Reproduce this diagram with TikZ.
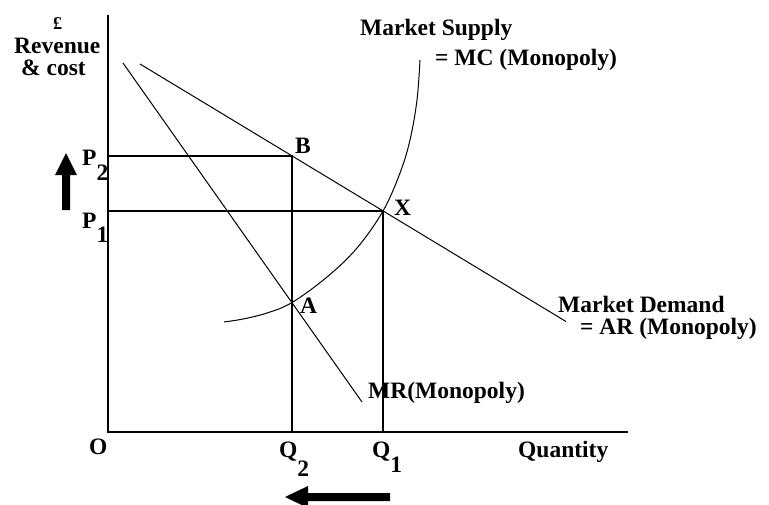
\documentclass[tikz,border=0pt]{standalone}
\usepackage{fontspec}
\setmainfont{Liberation Serif}
\begin{document}
\begin{tikzpicture}[x=1pt,y=-1pt,
  lbl/.style={anchor=base west,inner sep=0pt,font=\fontsize{23.5}{23.5}\selectfont\bfseries},
  axis/.style={line width=1.5pt},
  curve/.style={line width=1pt},
  guide/.style={line width=1.3pt}]
\useasboundingbox[fill=white] (0,0) rectangle (769,504);
% key points
\coordinate (O) at (108,432);
\coordinate (ytop) at (108,15);
\coordinate (xend) at (628,432);
\coordinate (P2) at (108,156);
\coordinate (P1) at (108,211);
\coordinate (B) at (292,156);
\coordinate (X) at (383,211);
\coordinate (A) at (292,302.5);
\coordinate (Q2) at (292,432);
\coordinate (Q1) at (383,432);
\coordinate (Dstart) at (140,64);
\coordinate (Dend) at (566,321.5);
\coordinate (MRstart) at (123,63);
\coordinate (MRend) at (362,402);
% axes
\draw[axis] (ytop) -- (O) -- (xend);
% guides
\draw[guide] (P2) -- (B) -- (Q2);
\draw[guide] (P1) -- (X) -- (Q1);
% demand and MR
\draw[curve] (Dstart) -- (Dend);
\draw[curve] (MRstart) -- (MRend);
% MC
\draw[curve] plot[smooth,tension=0.6] coordinates {(224,322) (243,319) (267,313) (A) (327,277) (357,248) (X) (400,173) (410,140) (417,100) (420,60)};
% labels
\node[lbl,font=\fontsize{18}{18}\selectfont\bfseries] (pound) at (53,29) {£};
\node[lbl] (rev) at (14,53) {Revenue};
\node[lbl] (cost) at (21,75) {\&~cost};
\node[lbl] (ms) at (360,35) {Market Supply};
\node[lbl] (mc) at (435,65) {= MC (Monopoly)};
\node[lbl] (md) at (558,312) {Market Demand};
\node[lbl] (ar) at (580,334) {= AR (Monopoly)};
\node[lbl] (mr) at (368,398) {MR(Monopoly)};
\node[lbl] (lb) at (295,153) {B};
\node[lbl] (lx) at (394,215) {X};
\node[lbl] (la) at (300,313) {A};
\node[lbl] (lp2) at (82,165) {P\raisebox{-15pt}{2}};
\node[lbl] (lp1) at (82,228) {P\raisebox{-14pt}{1}};
\node[lbl] (lo) at (89,454) {O};
\node[lbl] (lq2) at (279,457) {Q\raisebox{-19pt}{2}};
\node[lbl] (lq1) at (372,457) {Q\raisebox{-15pt}{1}};
\node[lbl] (lq) at (518,457) {Quantity};
% redraw Q1 line over MR label
\draw[guide] (X) -- (Q1);
% arrows
\fill (62,210) -- (70,210) -- (70,175) -- (77,175) -- (66,153) -- (55,175) -- (62,175) -- cycle;
\fill (390,493) -- (390,501) -- (308,501) -- (308,508) -- (285,497) -- (308,486) -- (308,493) -- cycle;
\end{tikzpicture}
\end{document}
